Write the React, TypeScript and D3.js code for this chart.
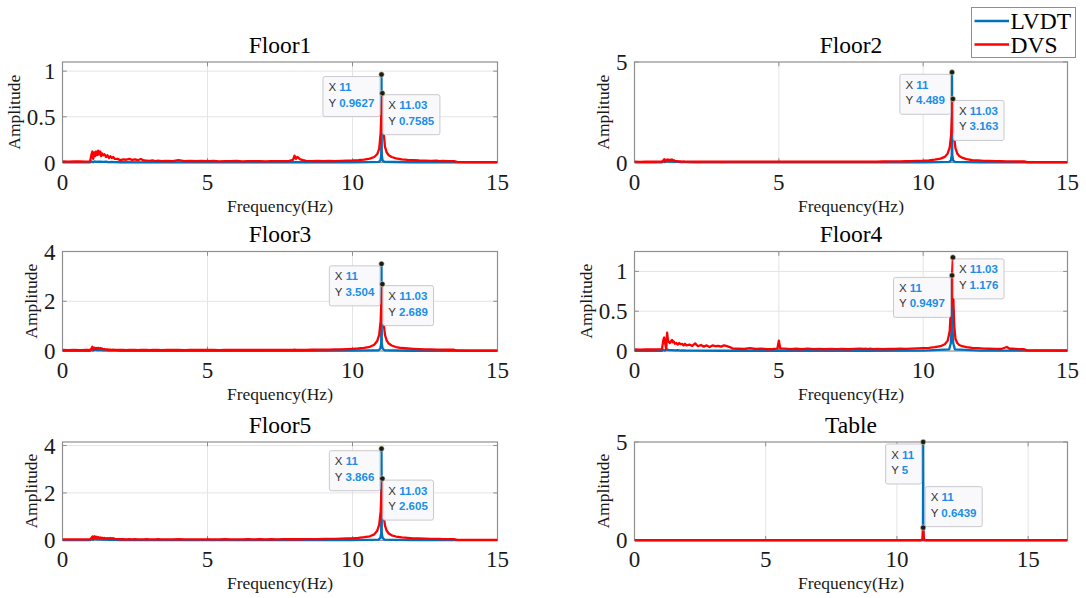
import React from 'react';
import * as d3 from 'd3';

// ---------------- data ----------------
const panelTitles = ['Floor1', 'Floor2', 'Floor3', 'Floor4', 'Floor5', 'Table'];
const seriesNames = ['LVDT', 'DVS'];
const xTickValues = [0, 5, 10, 15];
const yTickValues = [[0, 0.5, 1], [0, 5], [0, 2, 4], [0, 0.5, 1], [0, 2, 4], [0, 5]];
const yMaxValues = [1.1, 5, 4, 1.25, 4.15, 5];
const xMaxValues = [15, 15, 15, 15, 15, 16.5];

const dvsFreq = [
  0, 0.2, 0.4, 0.6, 0.8, 0.95,
  1.0, 1.03, 1.06, 1.1, 1.13, 1.16, 1.2, 1.23, 1.26, 1.3, 1.33, 1.36, 1.4, 1.45, 1.5, 1.55, 1.6, 1.65, 1.7, 1.75, 1.8,
  1.9, 2.0, 2.1, 2.2, 2.3, 2.4, 2.5, 2.6, 2.7, 2.8, 2.9, 3.0, 3.1, 3.2, 3.3, 3.4, 3.6, 3.8, 4.0, 4.2, 4.4, 4.6, 4.8,
  4.95, 5.0, 5.05, 5.2, 5.4, 5.6, 5.8, 6.0, 6.2, 6.4, 6.6, 6.8, 7.0, 7.2, 7.4, 7.6, 7.8,
  7.95, 8.0, 8.05, 8.1, 8.2, 8.3, 8.4, 8.6, 8.8, 9.0, 9.2, 9.4, 9.6, 9.8, 10.0, 10.2, 10.4, 10.6,
  10.75, 10.85, 10.92, 10.97, 11.0, 11.03, 11.05, 11.08, 11.12, 11.18, 11.25, 11.35, 11.5,
  11.7, 11.9, 12.1, 12.3, 12.5, 12.7, 12.9, 13.0, 13.1, 13.3, 13.5, 13.6, 14.0, 14.5, 15.0,
];

const floor1Dvs = [
  0.012, 0.010, 0.011, 0.012, 0.010, 0.012,
  0.09, 0.12, 0.04, 0.11, 0.07, 0.12, 0.08, 0.13, 0.09, 0.12, 0.07, 0.10, 0.08, 0.09, 0.06, 0.08, 0.05, 0.07, 0.05, 0.06, 0.04,
  0.04, 0.025, 0.035, 0.03, 0.04, 0.028, 0.035, 0.025, 0.038, 0.022, 0.02, 0.018, 0.022, 0.016, 0.02, 0.015, 0.018, 0.014, 0.025, 0.015, 0.018, 0.014, 0.017,
  0.015, 0.018, 0.014, 0.017, 0.013, 0.016, 0.014, 0.017, 0.013, 0.015, 0.014, 0.016, 0.013, 0.015, 0.014, 0.016, 0.015,
  0.03, 0.075, 0.04, 0.06, 0.035, 0.025, 0.018, 0.016, 0.018, 0.015, 0.017, 0.016, 0.018, 0.02, 0.022, 0.026, 0.032, 0.042,
  0.06, 0.09, 0.15, 0.32, 0.6, 0.7585, 0.36, 0.31, 0.17, 0.11, 0.08, 0.06, 0.045,
  0.035, 0.028, 0.026, 0.022, 0.02, 0.018, 0.019, 0.016, 0.018, 0.015, 0.016, 0.006, 0.005, 0.005, 0.005,
];

const floor2Dvs = [
  0.04, 0.035, 0.04, 0.038, 0.04, 0.04,
  0.1, 0.16, 0.05, 0.14, 0.1, 0.15, 0.09, 0.14, 0.1, 0.15, 0.09, 0.12, 0.08, 0.07, 0.06, 0.05, 0.05, 0.045, 0.05, 0.045, 0.04,
  0.045, 0.04, 0.042, 0.038, 0.044, 0.04, 0.043, 0.039, 0.042, 0.04, 0.043, 0.038, 0.042, 0.04, 0.044, 0.039, 0.042, 0.04, 0.043, 0.039, 0.042, 0.04, 0.043,
  0.04, 0.045, 0.04, 0.042, 0.039, 0.044, 0.04, 0.043, 0.039, 0.045, 0.041, 0.044, 0.04, 0.045, 0.042, 0.046, 0.044,
  0.045, 0.048, 0.044, 0.047, 0.045, 0.048, 0.046, 0.05, 0.052, 0.055, 0.058, 0.062, 0.07, 0.08, 0.09, 0.11, 0.14, 0.19,
  0.28, 0.45, 0.75, 1.4, 2.4, 3.163, 1.6, 1.15, 0.7, 0.45, 0.32, 0.24, 0.17,
  0.12, 0.1, 0.085, 0.075, 0.068, 0.062, 0.058, 0.055, 0.053, 0.05, 0.05, 0.02, 0.018, 0.018, 0.018,
];

const floor3Dvs = [
  0.04, 0.038, 0.04, 0.037, 0.04, 0.04,
  0.1, 0.17, 0.05, 0.13, 0.08, 0.12, 0.09, 0.13, 0.1, 0.12, 0.08, 0.1, 0.07, 0.08, 0.06, 0.06, 0.05, 0.05, 0.045, 0.05, 0.045,
  0.046, 0.041, 0.043, 0.039, 0.045, 0.04, 0.043, 0.038, 0.042, 0.041, 0.044, 0.039, 0.042, 0.04, 0.045, 0.039, 0.043, 0.04, 0.044, 0.039, 0.042, 0.041, 0.043,
  0.041, 0.046, 0.04, 0.043, 0.039, 0.044, 0.041, 0.043, 0.04, 0.045, 0.041, 0.044, 0.04, 0.045, 0.043, 0.046, 0.044,
  0.045, 0.05, 0.044, 0.047, 0.045, 0.048, 0.046, 0.05, 0.052, 0.055, 0.058, 0.062, 0.068, 0.075, 0.085, 0.1, 0.13, 0.17,
  0.25, 0.4, 0.65, 1.2, 2.1, 2.689, 1.4, 1.05, 0.65, 0.42, 0.3, 0.22, 0.16,
  0.12, 0.1, 0.085, 0.075, 0.068, 0.062, 0.058, 0.055, 0.053, 0.05, 0.05, 0.02, 0.018, 0.018, 0.018,
];

const floor4Dvs = [
  0.02, 0.018, 0.02, 0.019, 0.02, 0.02,
  0.14, 0.17, 0.1, 0.02, 0.23, 0.13, 0.11, 0.1, 0.12, 0.14, 0.11, 0.12, 0.09, 0.1, 0.08, 0.1, 0.085, 0.09, 0.07, 0.09, 0.07,
  0.08, 0.065, 0.095, 0.06, 0.075, 0.055, 0.07, 0.05, 0.07, 0.06, 0.065, 0.055, 0.07, 0.06, 0.05, 0.03, 0.028, 0.025, 0.035, 0.025, 0.03, 0.022, 0.025,
  0.03, 0.13, 0.03, 0.03, 0.024, 0.028, 0.022, 0.03, 0.024, 0.027, 0.022, 0.026, 0.023, 0.025, 0.022, 0.026, 0.03,
  0.025, 0.03, 0.024, 0.026, 0.028, 0.023, 0.026, 0.024, 0.027, 0.025, 0.028, 0.026, 0.03, 0.033, 0.036, 0.04, 0.048, 0.06,
  0.085, 0.13, 0.25, 0.6, 0.95, 1.176, 0.6, 0.3, 0.15, 0.1, 0.075, 0.06, 0.05,
  0.04, 0.035, 0.03, 0.028, 0.026, 0.025, 0.05, 0.028, 0.03, 0.024, 0.022, 0.008, 0.007, 0.007, 0.007,
];

const floor5Dvs = [
  0.04, 0.038, 0.04, 0.037, 0.04, 0.04,
  0.1, 0.16, 0.08, 0.17, 0.1, 0.15, 0.1, 0.14, 0.09, 0.12, 0.08, 0.11, 0.08, 0.1, 0.07, 0.09, 0.07, 0.1, 0.07, 0.09, 0.06,
  0.05, 0.045, 0.048, 0.042, 0.046, 0.041, 0.044, 0.04, 0.043, 0.041, 0.044, 0.039, 0.042, 0.04, 0.044, 0.039, 0.043, 0.04, 0.044, 0.039, 0.042, 0.041, 0.043,
  0.041, 0.045, 0.04, 0.043, 0.039, 0.044, 0.041, 0.043, 0.04, 0.045, 0.041, 0.044, 0.04, 0.045, 0.043, 0.046, 0.044,
  0.045, 0.049, 0.044, 0.047, 0.045, 0.048, 0.046, 0.05, 0.052, 0.055, 0.058, 0.062, 0.068, 0.075, 0.085, 0.1, 0.13, 0.17,
  0.25, 0.4, 0.65, 1.2, 2.05, 2.605, 1.35, 1.0, 0.62, 0.4, 0.29, 0.21, 0.16,
  0.12, 0.1, 0.085, 0.075, 0.068, 0.062, 0.058, 0.055, 0.053, 0.05, 0.05, 0.02, 0.018, 0.018, 0.018,
];

const tableDvsFreq = [0, 2, 5, 8, 10.5, 10.85, 10.92, 10.97, 11.0, 11.03, 11.08, 11.15, 11.5, 14, 16.5];
const tableDvs = [0.004, 0.005, 0.004, 0.005, 0.005, 0.008, 0.015, 0.05, 0.6439, 0.05, 0.015, 0.008, 0.005, 0.004, 0.004];

const lvdtFreq = [
  0, 0.95, 1.0, 1.05, 1.1, 1.2, 1.3, 1.4, 1.5, 1.6, 1.7, 1.8, 2.0, 3.0, 5.0, 8.0, 10.0,
  10.9, 10.96, 10.99, 11.0, 11.01, 11.04, 11.1, 12.0, 15.0,
];
const floor1Lvdt = [
  0.002, 0.002, 0.012, 0.004, 0.012, 0.008, 0.01, 0.006, 0.008, 0.005, 0.006, 0.004, 0.003, 0.002, 0.002, 0.003, 0.003,
  0.006, 0.02, 0.08, 0.9627, 0.08, 0.02, 0.008, 0.003, 0.002,
];
const floor2Lvdt = [
  0.01, 0.01, 0.06, 0.02, 0.07, 0.05, 0.06, 0.03, 0.04, 0.02, 0.02, 0.015, 0.01, 0.01, 0.01, 0.01, 0.012,
  0.03, 0.1, 0.35, 4.489, 0.35, 0.1, 0.03, 0.01, 0.01,
];
const floor3Lvdt = [
  0.01, 0.01, 0.05, 0.02, 0.06, 0.04, 0.05, 0.03, 0.03, 0.02, 0.02, 0.015, 0.01, 0.01, 0.01, 0.01, 0.012,
  0.03, 0.1, 0.3, 3.504, 0.3, 0.1, 0.03, 0.01, 0.01,
];
const floor4Lvdt = [
  0.003, 0.003, 0.015, 0.005, 0.02, 0.01, 0.012, 0.008, 0.01, 0.006, 0.007, 0.005, 0.004, 0.003, 0.003, 0.003, 0.004,
  0.02, 0.1, 0.35, 0.9497, 0.35, 0.1, 0.02, 0.004, 0.003,
];
const floor5Lvdt = [
  0.01, 0.01, 0.06, 0.02, 0.07, 0.04, 0.05, 0.03, 0.04, 0.02, 0.03, 0.015, 0.01, 0.01, 0.01, 0.01, 0.012,
  0.03, 0.1, 0.3, 3.866, 0.3, 0.1, 0.03, 0.01, 0.01,
];
const tableLvdtFreq = [0, 10.99, 11.0, 11.01, 16.5];
const tableLvdt = [0.001, 0.001, 5, 0.001, 0.001];

const lvdtPeakX = [11, 11, 11, 11, 11, 11];
const lvdtPeakY = [0.9627, 4.489, 3.504, 0.9497, 3.866, 5];
const dvsPeakX = [11.03, 11.03, 11.03, 11.03, 11.03, 11];
const dvsPeakY = [0.7585, 3.163, 2.689, 1.176, 2.605, 0.6439];

const lvdtSeries = [
  [lvdtFreq, floor1Lvdt], [lvdtFreq, floor2Lvdt], [lvdtFreq, floor3Lvdt],
  [lvdtFreq, floor4Lvdt], [lvdtFreq, floor5Lvdt], [tableLvdtFreq, tableLvdt],
];
const dvsSeries = [
  [dvsFreq, floor1Dvs], [dvsFreq, floor2Dvs], [dvsFreq, floor3Dvs],
  [dvsFreq, floor4Dvs], [dvsFreq, floor5Dvs], [tableDvsFreq, tableDvs],
];

// ---------------- layout / style ----------------
const W = 1086;
const H = 598;
const COL_LEFT = [62.5, 634.5];
const COL_WIDTH = [435, 433];
const ROW_TOP = [62, 251.5, 442];
const ROW_HEIGHT = [100.5, 99.5, 98.3];
const TIP_PLACE = [['bl', 'br'], ['bl', 'br'], ['bl', 'br'], ['bl', 'br'], ['bl', 'br'], ['bl', 'tr']];

const BLUE = '#0072BD';
const RED = '#FF0000';
const AXIS = '#8f8f8f';
const GRID = '#e4e4e4';
const TXT = '#1a1a1a';
const SERIF = '"Liberation Serif", "Times New Roman", Times, serif';
const SANS = '"Liberation Sans", Arial, Helvetica, sans-serif';
const TIP_FS = 11.5;
const LINE_W = 2.3;

let ctxCache: CanvasRenderingContext2D | null = null;
function measure(text: string, bold: boolean): number {
  try {
    if (!ctxCache) ctxCache = document.createElement('canvas').getContext('2d');
    if (ctxCache) {
      ctxCache.font = `${bold ? 'bold ' : ''}${TIP_FS}px ${SANS}`;
      return ctxCache.measureText(text).width;
    }
  } catch (e) { /* ignore */ }
  return text.length * TIP_FS * 0.56;
}

function zip(fx: number[], fy: number[]): [number, number][] {
  const n = Math.min(fx.length, fy.length);
  const out: [number, number][] = [];
  for (let i = 0; i < n; i++) out.push([fx[i], fy[i]]);
  return out;
}

function DataTip({ mx, my, xv, yv, place }: { mx: number; my: number; xv: number; yv: number; place: string }) {
  const xs = String(xv);
  const ys = String(yv);
  const lw = Math.max(measure('X ', false) + measure(xs, true), measure('Y ', false) + measure(ys, true));
  const bw = Math.max(lw + 11, 36);
  const bh = 40;
  let left = 0, top = 0;
  if (place === 'bl') { left = mx - 1.5 - bw; top = my + 2; }
  else if (place === 'br') { left = mx + 0.5; top = my + 1.5; }
  else { left = mx + 2; top = my - 1 - bh; }
  return (
    <g>
      <rect x={left} y={top} width={bw} height={bh} rx={2} fill="#f9f9fc" fillOpacity={0.95} stroke="#c9c9ce" strokeWidth={1} />
      <text x={left + 5.5} y={top + 14.5} fontFamily={SANS} fontSize={TIP_FS} fill="#333">
        X <tspan fontWeight="bold" fill="#1a8fe8">{xs}</tspan>
      </text>
      <text x={left + 5.5} y={top + 30} fontFamily={SANS} fontSize={TIP_FS} fill="#333">
        Y <tspan fontWeight="bold" fill="#1a8fe8">{ys}</tspan>
      </text>
    </g>
  );
}

function Panel({ idx }: { idx: number }) {
  const col = idx % 2;
  const row = Math.floor(idx / 2);
  const left = COL_LEFT[col];
  const width = COL_WIDTH[col];
  const top = ROW_TOP[row];
  const height = ROW_HEIGHT[row];
  const bottom = top + height;
  const right = left + width;
  const x = d3.scaleLinear().domain([0, xMaxValues[idx]]).range([left, right]);
  const y = d3.scaleLinear().domain([0, yMaxValues[idx]]).range([bottom, top]);
  const line = d3.line<[number, number]>().x((d) => x(d[0])).y((d) => y(d[1]));
  const lv = lvdtSeries[idx];
  const dv = dvsSeries[idx];
  const yt = yTickValues[idx];
  const fmt = (v: number) => String(v);
  const tickFs = 23;
  const maxTickW = d3.max(yt, (v) => fmt(v).length * 11.5 - (fmt(v).includes('.') ? 5.75 : 0)) || 11.5;
  const ylabX = left - 8 - maxTickW - 12;
  const clipId = `clip${idx}`;
  const tl = 4.3;
  const bx = x(lvdtPeakX[idx]);
  const by = y(lvdtPeakY[idx]);
  const rx = x(dvsPeakX[idx]);
  const ry = y(dvsPeakY[idx]);
  return (
    <g>
      <defs>
        <clipPath id={clipId}>
          <rect x={left} y={top - 2} width={width} height={height + 4} />
        </clipPath>
      </defs>
      <rect x={left} y={top} width={width} height={height} fill="#fff" />
      {/* grid */}
      {xTickValues.filter((v) => v > 0 && v < xMaxValues[idx]).map((v) => (
        <line key={`gx${v}`} x1={x(v)} x2={x(v)} y1={top} y2={bottom} stroke={GRID} strokeWidth={1} />
      ))}
      {yt.filter((v) => v > 0 && v < yMaxValues[idx]).map((v) => (
        <line key={`gy${v}`} x1={left} x2={right} y1={y(v)} y2={y(v)} stroke={GRID} strokeWidth={1} />
      ))}
      {/* box */}
      <rect x={left} y={top} width={width} height={height} fill="none" stroke={AXIS} strokeWidth={1.2} />
      {/* ticks */}
      {xTickValues.map((v) => (
        <g key={`tx${v}`}>
          <line x1={x(v)} x2={x(v)} y1={bottom} y2={bottom - tl} stroke={AXIS} strokeWidth={1} />
          <line x1={x(v)} x2={x(v)} y1={top} y2={top + tl} stroke={AXIS} strokeWidth={1} />
          <text x={x(v)} y={bottom + 27} textAnchor="middle" fontFamily={SERIF} fontSize={tickFs} fill={TXT}>{fmt(v)}</text>
        </g>
      ))}
      {yt.map((v) => (
        <g key={`ty${v}`}>
          <line x1={left} x2={left + tl} y1={y(v)} y2={y(v)} stroke={AXIS} strokeWidth={1} />
          <line x1={right} x2={right - tl} y1={y(v)} y2={y(v)} stroke={AXIS} strokeWidth={1} />
          <text x={left - 7} y={y(v) + 8} textAnchor="end" fontFamily={SERIF} fontSize={tickFs} fill={TXT}>{fmt(v)}</text>
        </g>
      ))}
      {/* series */}
      <g clipPath={`url(#${clipId})`}>
        <path d={line(zip(lv[0], lv[1])) || ''} fill="none" stroke={BLUE} strokeWidth={LINE_W} strokeLinejoin="round" />
        <path d={line(zip(dv[0], dv[1])) || ''} fill="none" stroke={RED} strokeWidth={LINE_W} strokeLinejoin="round" />
      </g>
      {/* labels */}
      <text x={(left + right) / 2} y={top - 9.5} textAnchor="middle" fontFamily={SERIF} fontSize={23.5} fill="#000">{panelTitles[idx]}</text>
      <text x={(left + right) / 2} y={bottom + 49} textAnchor="middle" fontFamily={SERIF} fontSize={17.5} fill={TXT}>Frequency(Hz)</text>
      <text transform={`translate(${ylabX},${(top + bottom) / 2}) rotate(-90)`} textAnchor="middle" dominantBaseline="central" fontFamily={SERIF} fontSize={17.5} fill={TXT}>Amplitude</text>
      {/* data tips */}
      <DataTip mx={bx} my={by} xv={lvdtPeakX[idx]} yv={lvdtPeakY[idx]} place={TIP_PLACE[idx][0]} />
      <DataTip mx={rx} my={ry} xv={dvsPeakX[idx]} yv={dvsPeakY[idx]} place={TIP_PLACE[idx][1]} />
      <circle cx={bx} cy={by} r={2.7} fill="#1c1c1c" stroke="#e6e2b0" strokeWidth={0.6} />
      <circle cx={rx} cy={ry} r={2.7} fill="#1c1c1c" stroke="#e6e2b0" strokeWidth={0.6} />
    </g>
  );
}

function Legend() {
  const lx = 971.5, ly = 7.5, lw = 104, lh = 50;
  const colors = [BLUE, RED];
  const rowsY = [21, 44.5];
  return (
    <g>
      <rect x={lx} y={ly} width={lw} height={lh} fill="#fff" stroke={AXIS} strokeWidth={1} />
      {seriesNames.map((name, i) => (
        <g key={name}>
          <line x1={974.5} x2={1009} y1={rowsY[i]} y2={rowsY[i]} stroke={colors[i]} strokeWidth={LINE_W} />
          <text x={1010.5} y={rowsY[i] + 8} fontFamily={SERIF} fontSize={23.5} fill="#000">{name}</text>
        </g>
      ))}
    </g>
  );
}

export default function App() {
  return (
    <svg width={W} height={H} viewBox={`0 0 ${W} ${H}`} style={{ position: 'absolute', left: 0, top: 0, background: '#fff' }}>
      <rect x={0} y={0} width={W} height={H} fill="#fff" />
      {panelTitles.map((_, i) => <Panel key={i} idx={i} />)}
      <Legend />
    </svg>
  );
}
